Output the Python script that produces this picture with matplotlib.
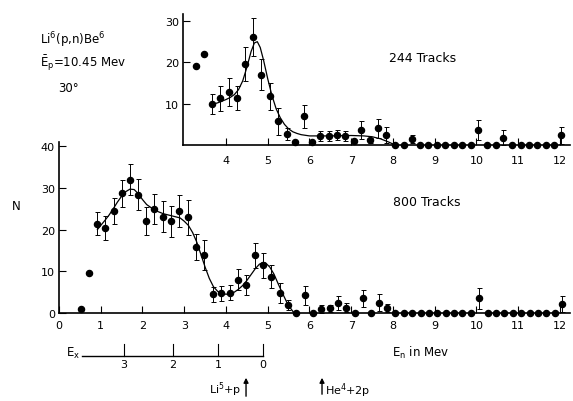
import numpy as np
import matplotlib.pyplot as plt
from matplotlib.transforms import blended_transform_factory

plt.rcParams['font.family'] = 'DejaVu Sans'
plt.rcParams['mathtext.fontset'] = 'dejavusans'

# 800 tracks (main panel): neutron energy (MeV), counts, error half-length
main_E = [0.53, 0.73, 0.92, 1.11, 1.31, 1.50, 1.69, 1.89, 2.08, 2.28, 2.48, 2.68,
          2.88, 3.09, 3.29, 3.48, 3.68, 3.88, 4.09, 4.29, 4.49, 4.69, 4.89, 5.09,
          5.29, 5.48, 5.68, 5.89, 6.09, 6.28, 6.48, 6.68, 6.88, 7.08, 7.27, 7.48,
          7.66, 7.86, 8.06, 8.26, 8.46, 8.66, 8.86, 9.06, 9.26, 9.46, 9.66, 9.86,
          10.07, 10.27, 10.47, 10.67, 10.87, 11.07, 11.27, 11.47, 11.67, 11.87, 12.06]
main_N = [1.0, 9.7, 21.4, 20.4, 24.4, 28.7, 32.0, 28.4, 22.0, 24.9, 23.1, 22.0,
          24.5, 22.9, 15.9, 13.9, 4.5, 4.7, 4.8, 8.0, 6.7, 13.8, 11.4, 8.7,
          4.8, 1.8, 0, 4.2, 0, 1.0, 1.1, 2.4, 1.3, 0, 3.5, 0,
          2.5, 1.2, 0, 0, 0, 0, 0, 0, 0, 0, 0, 0,
          3.5, 0, 0, 0, 0, 0, 0, 0, 0, 0, 2.1]
main_err = [0, 0, 2.8, 2.8, 3.1, 3.3, 3.7, 3.7, 3.4, 3.6, 3.7, 3.7,
            3.9, 4.1, 3.1, 3.7, 1.8, 1.8, 1.8, 2.6, 2.3, 3.1, 2.9, 2.8,
            2.4, 1.2, 0, 2.2, 0, 0.9, 0.9, 1.7, 1.1, 0, 2.1, 0,
            2.0, 1.0, 0, 0, 0, 0, 0, 0, 0, 0, 0, 0,
            2.5, 0, 0, 0, 0, 0, 0, 0, 0, 0, 1.9]

# hand-drawn fit through the 800-track data
main_fit_E = [0.92, 1.0, 1.1, 1.2, 1.3, 1.4, 1.5, 1.6, 1.7, 1.8, 1.9, 2.0, 2.1,
              2.3, 2.5, 2.7, 2.9, 3.0, 3.1, 3.2, 3.3, 3.4, 3.5, 3.6, 3.7, 3.8,
              3.9, 4.0, 4.1, 4.2, 4.3, 4.4, 4.5, 4.6, 4.7, 4.8, 4.88, 4.95, 5.05,
              5.15, 5.25, 5.35, 5.45, 5.55, 5.63]
main_fit_N = [20.0, 21.0, 22.2, 23.5, 25.0, 26.6, 28.0, 29.1, 29.7, 29.6, 28.6, 27.2, 26.0,
              24.6, 23.8, 23.3, 22.8, 22.0, 21.0, 19.3, 17.0, 14.0, 11.0, 8.3, 6.3, 5.2,
              4.7, 4.5, 4.6, 5.0, 5.7, 6.6, 7.8, 9.2, 10.6, 11.7, 12.1, 12.0, 11.0,
              9.3, 7.0, 4.8, 2.7, 1.1, 0.0]

# 244 tracks (inset)
ins_E = [3.27, 3.47, 3.66, 3.86, 4.06, 4.26, 4.46, 4.65, 4.85, 5.05, 5.25, 5.45,
         5.65, 5.87, 6.06, 6.26, 6.46, 6.66, 6.86, 7.06, 7.24, 7.44, 7.64, 7.84,
         8.06, 8.26, 8.45, 8.65, 8.85, 9.05, 9.25, 9.45, 9.66, 9.86, 10.04, 10.26,
         10.46, 10.63, 10.85, 11.07, 11.26, 11.44, 11.66, 11.86, 12.02]
ins_N = [19.0, 21.9, 9.9, 11.3, 12.8, 11.4, 19.6, 26.1, 17.0, 11.8, 5.7, 2.7,
         0.7, 6.9, 0.8, 2.1, 2.2, 2.4, 2.2, 0.9, 3.6, 1.1, 4.0, 2.4,
         0, 0, 1.5, 0, 0, 0, 0, 0, 0, 0, 3.6, 0,
         0, 1.8, 0, 0, 0, 0, 0, 0, 2.3]
ins_err = [0, 0, 2.4, 3.0, 3.3, 2.9, 4.0, 4.6, 3.7, 3.3, 3.2, 1.5,
           0, 2.8, 0, 1.2, 1.3, 1.3, 1.2, 0, 2.2, 0.7, 2.2, 2.0,
           0, 0, 1.0, 0, 0, 0, 0, 0, 0, 0, 2.4, 0,
           0, 1.8, 0, 0, 0, 0, 0, 0, 2.1]

ins_fit_E = [3.66, 3.8, 3.9, 4.0, 4.1, 4.2, 4.3, 4.4, 4.5, 4.6, 4.68, 4.75, 4.82,
             4.9, 5.0, 5.1, 5.2, 5.3, 5.4, 5.5, 5.6, 5.7, 5.8, 6.0, 6.5, 7.0,
             7.3, 7.5, 7.7, 7.9, 8.05]
ins_fit_N = [9.8, 10.2, 10.6, 11.0, 11.5, 12.2, 13.4, 15.5, 18.8, 22.6, 24.7, 25.0, 23.6,
             20.5, 16.0, 12.0, 8.8, 6.6, 5.0, 3.9, 3.2, 2.8, 2.5, 2.2, 2.2, 2.3,
             2.2, 2.0, 1.5, 0.7, 0.0]

# excitation-energy scale drawn under the main axis (positions in E_n)
ex_labels = ['3', '2', '1', '0']
ex_at_En = [1.56, 2.73, 3.81, 4.89]
ex_start_En = 0.55
li5_En = 4.48
he4_En = 6.30

W, H = 573, 402
fig = plt.figure(figsize=(W / 100, H / 100), dpi=100)


def box(l, t, r, b):
    return [l / W, 1 - b / H, (r - l) / W, (b - t) / H]


def fy(py):
    return 1 - py / H


ax = fig.add_axes(box(59, 143, 570, 314))
ins = fig.add_axes(box(183, 15, 570, 146))
ins.patch.set_alpha(0)

for a in (ax, ins):
    a.spines['top'].set_visible(False)
    a.spines['right'].set_visible(False)
    a.spines['left'].set_linewidth(1.2)
    a.spines['bottom'].set_linewidth(1.2)
    a.tick_params(direction='in', length=5, width=0.8, labelsize=8)
    a.tick_params(axis='y', pad=3)

ax.tick_params(axis='x', pad=5)
ins.tick_params(axis='x', pad=7)

ax.set_xlim(0, 12.24)
ax.set_ylim(0, 41)
ax.set_xticks(range(0, 13))
ax.set_yticks([0, 10, 20, 30, 40])
ins.set_xlim(2.97, 12.24)
ins.set_ylim(0, 31.7)
ins.set_xticks(range(4, 13))
ins.set_yticks([10, 20, 30])


def draw(a, E, N, err, fitE, fitN):
    E = np.array(E)
    N = np.array(N)
    err = np.array(err)
    m = err > 0
    a.errorbar(E[m], N[m], yerr=err[m], fmt='none', ecolor='k', elinewidth=0.7,
               capsize=1.8, capthick=0.7, clip_on=False, zorder=2)
    a.plot(E, N, 'o', color='k', ms=4.4, clip_on=False, zorder=3)
    a.plot(fitE, fitN, '-', color='k', lw=0.9, zorder=2)


draw(ax, main_E, main_N, main_err, main_fit_E, main_fit_N)
draw(ins, ins_E, ins_N, ins_err, ins_fit_E, ins_fit_N)

fig.text(40 / W, fy(40), r'Li$^6$(p,n)Be$^6$', fontsize=8.5, va='center')
fig.text(40 / W, fy(63), r'$\bar{\mathrm{E}}_\mathrm{p}$=10.45 Mev', fontsize=8.5, va='center')
fig.text(58 / W, fy(89), '30°', fontsize=8.5, va='center')
fig.text(423 / W, fy(58), '244 Tracks', fontsize=9, ha='center', va='center')
fig.text(427 / W, fy(203), '800 Tracks', fontsize=9, ha='center', va='center')
fig.text(16 / W, fy(207), 'N', fontsize=8.5, ha='center', va='center')

trans = blended_transform_factory(ax.transData, fig.transFigure)
ax.plot([ex_start_En, ex_at_En[-1]], [fy(357), fy(357)], color='k', lw=1.0,
        transform=trans, clip_on=False)
for lab, e in zip(ex_labels, ex_at_En):
    ax.plot([e, e], [fy(357), fy(345)], color='k', lw=0.8, transform=trans, clip_on=False)
    ax.text(e, fy(365), lab, fontsize=8, ha='center', va='center', transform=trans)
fig.text(66 / W, fy(353), r'E$_\mathrm{x}$', fontsize=8.5, va='center')
fig.text(392 / W, fy(353), r'E$_\mathrm{n}$ in Mev', fontsize=8.5, va='center')

arrow = dict(arrowstyle='-|>', lw=1.0, color='k', mutation_scale=7)
ax.annotate('', xy=(li5_En, fy(376)), xytext=(li5_En, fy(400)),
            xycoords=trans, textcoords=trans, arrowprops=arrow)
ax.text(li5_En - 0.1, fy(390), r'Li$^5$+p', fontsize=8, ha='right', va='center',
        transform=trans)
ax.annotate('', xy=(he4_En, fy(376)), xytext=(he4_En, fy(398)),
            xycoords=trans, textcoords=trans, arrowprops=arrow)
ax.text(he4_En + 0.08, fy(391), r'He$^4$+2p', fontsize=8, ha='left', va='center',
        transform=trans)

fig.savefig('out.png', dpi=100)
